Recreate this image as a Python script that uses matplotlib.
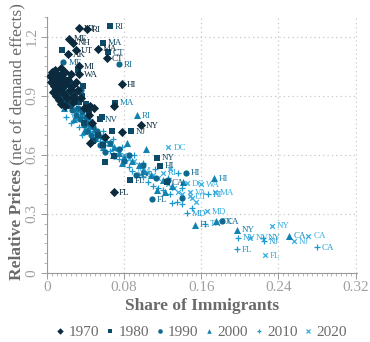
import matplotlib
matplotlib.use("Agg")
import matplotlib.pyplot as plt
from matplotlib.lines import Line2D
from matplotlib.ticker import MultipleLocator

plt.rcParams['font.family'] = ['Liberation Serif', 'DejaVu Serif']

# ---------------- data ----------------
years = ['1970', '1980', '1990', '2000', '2010', '2020']
colors = ['#0b2a3d', '#0c4a68', '#0e6890', '#1482b0', '#1b9ad2', '#35b0e2']
markers = ['D', 's', 'o', '^', '+', 'x']

x1970 = [0.003, 0.004, 0.005, 0.006, 0.007, 0.008, 0.009, 0.010, 0.011, 0.012, 0.013, 0.014,
         0.015, 0.016, 0.017, 0.018, 0.019, 0.020, 0.021, 0.022, 0.024, 0.025, 0.026, 0.028,
         0.030, 0.006, 0.009, 0.012, 0.015, 0.027, 0.032, 0.035, 0.038, 0.041, 0.044, 0.047,
         0.049, 0.045, 0.060, 0.069, 0.008, 0.019, 0.025, 0.028, 0.045,
         0.033, 0.041, 0.023, 0.027, 0.030, 0.022, 0.053, 0.062, 0.033, 0.033, 0.078, 0.097,
         0.078, 0.069]
y1970 = [1.00, 0.97, 1.02, 0.99, 0.95, 1.03, 0.98, 1.01, 0.96, 0.93, 1.00, 0.97,
         1.04, 0.94, 0.99, 0.91, 1.02, 0.96, 0.89, 0.98, 0.93, 1.01, 0.95, 0.90,
         0.97, 0.92, 0.90, 0.88, 0.86, 0.87, 0.93, 0.89, 0.84, 0.84, 0.80, 0.76,
         0.84, 0.66, 0.69, 0.85, 0.92, 0.85, 0.93, 0.885, 0.85,
         1.245, 1.24, 1.19, 1.17, 1.13, 1.11, 1.14, 1.09, 1.05, 1.01, 0.96, 0.75,
         0.715, 0.41]
lab1970 = [''] * 45 + ['VT', 'RI', 'ME', 'NH', 'UT', 'AK', 'MA', 'CT', 'MI', 'WA', 'HI', 'NY',
                       '', 'FL']

x1980 = [0.005, 0.007, 0.009, 0.011, 0.013, 0.015, 0.017, 0.019, 0.021, 0.023, 0.025, 0.027,
         0.029, 0.031, 0.033, 0.008, 0.012, 0.016, 0.020, 0.024, 0.036, 0.040, 0.044, 0.038,
         0.048, 0.053, 0.057, 0.067, 0.058, 0.060, 0.070, 0.021, 0.037, 0.032, 0.071,
         0.065, 0.058, 0.063, 0.016, 0.055, 0.087, 0.114, 0.117, 0.124, 0.086]
y1980 = [1.00, 0.97, 1.02, 0.95, 0.99, 0.93, 1.01, 0.96, 0.91, 0.98, 0.94, 0.89,
         0.96, 0.92, 0.87, 0.93, 0.90, 0.88, 0.86, 0.85, 0.90, 0.86, 0.82, 0.76,
         0.67, 0.70, 0.79, 0.72, 0.65, 0.565, 0.595, 0.86, 0.95, 1.03, 0.865,
         1.255, 1.17, 1.12, 1.13, 0.78, 0.72, 0.585, 0.545, 0.46, 0.47]
lab1980 = [''] * 35 + ['RI', 'MA', 'CT', '', 'NV', 'NJ', 'NY', 'HI', 'CA', 'FL']

x1990 = [0.008, 0.010, 0.012, 0.014, 0.016, 0.018, 0.020, 0.022, 0.024, 0.026, 0.028, 0.030,
         0.032, 0.034, 0.036, 0.038, 0.040, 0.042, 0.044, 0.046, 0.048, 0.050, 0.052, 0.055,
         0.058, 0.060, 0.065, 0.070, 0.075, 0.080, 0.085, 0.015, 0.025, 0.035, 0.113, 0.140,
         0.100, 0.125,
         0.017, 0.075, 0.092, 0.109, 0.144, 0.181]
y1990 = [0.97, 0.94, 0.99, 0.91, 0.95, 0.88, 0.92, 0.86, 0.90, 0.83, 0.87, 0.80,
         0.84, 0.78, 0.82, 0.75, 0.79, 0.72, 0.76, 0.70, 0.74, 0.68, 0.72, 0.65,
         0.69, 0.615, 0.66, 0.595, 0.63, 0.57, 0.60, 0.99, 0.96, 0.93, 0.48, 0.38,
         0.55, 0.47,
         1.07, 1.06, 0.50, 0.375, 0.51, 0.265]
lab1990 = [''] * 38 + ['ME', 'RI', 'DC', 'FL', 'HI', 'CA']

x2000 = [0.015, 0.020, 0.025, 0.030, 0.035, 0.040, 0.045, 0.050, 0.055, 0.060, 0.065, 0.070,
         0.075, 0.080, 0.083, 0.088, 0.095, 0.100, 0.103, 0.108, 0.114, 0.120, 0.122, 0.130,
         0.141, 0.028, 0.038, 0.048, 0.058, 0.068, 0.078, 0.010, 0.018,
         0.093, 0.070, 0.173, 0.251, 0.197, 0.153, 0.175]
y2000 = [0.93, 0.89, 0.86, 0.84, 0.80, 0.78, 0.75, 0.73, 0.70, 0.68, 0.66, 0.64,
         0.61, 0.59, 0.66, 0.57, 0.55, 0.52, 0.63, 0.50, 0.42, 0.47, 0.41, 0.44,
         0.46, 0.78, 0.72, 0.68, 0.64, 0.60, 0.56, 0.96, 0.84,
         0.80, 0.865, 0.48, 0.19, 0.22, 0.245, 0.265]
lab2000 = [''] * 33 + ['RI', 'MA', 'HI', 'CA', 'NY', 'FL', 'TX']

x2010 = [0.033, 0.036, 0.025, 0.040, 0.045, 0.050, 0.055, 0.060, 0.065, 0.070, 0.075, 0.080,
         0.085, 0.095, 0.100, 0.105, 0.110, 0.115, 0.120, 0.128, 0.135, 0.140, 0.150, 0.030,
         0.045, 0.058, 0.068, 0.078, 0.090, 0.100, 0.112, 0.125, 0.140, 0.136, 0.130,
         0.020, 0.088, 0.145, 0.167, 0.164, 0.198, 0.225, 0.224, 0.197, 0.280]
y2010 = [0.74, 0.70, 0.76, 0.76, 0.72, 0.70, 0.67, 0.65, 0.62, 0.60, 0.58, 0.56,
         0.54, 0.50, 0.49, 0.46, 0.44, 0.43, 0.42, 0.40, 0.36, 0.35, 0.33, 0.82,
         0.78, 0.72, 0.68, 0.64, 0.60, 0.56, 0.53, 0.48, 0.43, 0.51, 0.355,
         0.79, 0.52, 0.305, 0.40, 0.25, 0.18, 0.16, 0.18, 0.12, 0.13]
lab2010 = [''] * 35 + ['WV', 'NM', 'MD', 'HI', 'TX', 'NV', 'NJ', 'NY', 'FL', 'CA']

x2020 = [0.030, 0.040, 0.050, 0.060, 0.065, 0.070, 0.075, 0.080, 0.085, 0.090, 0.095, 0.100,
         0.105, 0.110, 0.115, 0.125, 0.128, 0.132, 0.136, 0.140, 0.150, 0.155,
         0.126, 0.120, 0.145, 0.160, 0.148, 0.174, 0.166, 0.148, 0.233, 0.271, 0.256, 0.226,
         0.211]
y2020 = [0.78, 0.74, 0.71, 0.68, 0.66, 0.63, 0.62, 0.60, 0.58, 0.57, 0.55, 0.53,
         0.51, 0.50, 0.48, 0.45, 0.53, 0.43, 0.41, 0.40, 0.38, 0.36,
         0.64, 0.51, 0.455, 0.45, 0.41, 0.41, 0.315, 0.39, 0.24, 0.19, 0.16, 0.09,
         0.18]
lab2020 = [''] * 22 + ['DC', 'RI', 'DC', 'WA', 'VA', 'MA', 'MD', 'UT', 'NY', 'CA', 'NJ', 'FL',
                       'NV']

xs = [x1970, x1980, x1990, x2000, x2010, x2020]
ys = [y1970, y1980, y1990, y2000, y2010, y2020]
labs = [lab1970, lab1980, lab1990, lab2000, lab2010, lab2020]

# ---------------- figure ----------------
W, H = 370, 342
fig = plt.figure(figsize=(W / 100, H / 100), dpi=100)
ax = fig.add_axes([47 / W, 1 - 273 / H, 310 / W, 256 / H])

sizes = {'D': 22, 's': 20, 'o': 20, '^': 26, '+': 16, 'x': 11}
for i in reversed(range(6)):
    m = markers[i]
    lw = 0.9 if m in '+x' else 0
    ax.scatter(xs[i], ys[i], marker=m, s=sizes[m], color=colors[i], linewidths=lw,
               zorder=3 + (6 - i))
    for xv, yv, lb in zip(xs[i], ys[i], labs[i]):
        if lb:
            ax.annotate(lb, (xv, yv), xytext=(3.5, -0.5), textcoords='offset points',
                        fontsize=6.5, color=colors[i], va='center', ha='left',
                        zorder=3 + (6 - i))

ax.set_xlim(0, 0.3215)
ax.set_ylim(0, 1.30)
ax.xaxis.set_minor_locator(MultipleLocator(0.005))
ax.yaxis.set_minor_locator(MultipleLocator(0.05))
ax.set_xticks([0, 0.08, 0.16, 0.24, 0.32])
ax.set_xticklabels(['0', '0.08', '0.16', '0.24', '0.32'])
ax.set_yticks([0, 0.3, 0.6, 0.9, 1.2])
ax.set_yticklabels(['0', '0.3', '0.6', '0.9', '1.2'], rotation=90, va='center')

spine_c = '#9a9a9a'
for s in ['top', 'right']:
    ax.spines[s].set_visible(False)
for s in ['left', 'bottom']:
    ax.spines[s].set_color(spine_c)
    ax.spines[s].set_linewidth(0.8)
ax.tick_params(which='major', length=4, width=0.7, color=spine_c, labelcolor='#a0a0a0',
               labelsize=11, pad=2)
ax.tick_params(which='minor', length=2, width=0.5, color=spine_c)
ax.grid(True, which='major', linestyle=(0, (1, 2.5)), color='#c8c8c8', linewidth=0.9)
ax.set_axisbelow(True)

ax.set_xlabel('Share of Immigrants', fontsize=12.5, fontweight='bold', color='#6a6a6a',
              labelpad=3)

# y label: bold part + normal part
fig.canvas.draw()
r = fig.canvas.get_renderer()
xc = 17 / W
t1 = fig.text(xc, 0, 'Relative Prices', rotation=90, fontsize=12.5, fontweight='bold',
              color='#6a6a6a', ha='center', va='bottom')
t2 = fig.text(xc, 0, '\u00a0(net of demand effects)', rotation=90, fontsize=12.5,
              color='#6a6a6a', ha='center', va='bottom')
h1 = t1.get_window_extent(r).height
h2 = t2.get_window_extent(r).height
yc = H - 142
start = yc - (h1 + h2) / 2
t1.set_y(start / H)
t2.set_y((start + h1) / H)

handles = [Line2D([], [], marker=markers[i], color=colors[i], linestyle='none',
                  markersize=3.3 if markers[i] not in '+x' else 3.5,
                  markeredgewidth=0.9 if markers[i] in '+x' else 0)
           for i in range(6)]
fig.legend(handles, years, loc='center', bbox_to_anchor=(202 / W, 1 - 332 / H), ncol=6,
           frameon=False, fontsize=11, labelcolor='#6a6a6a', handlelength=0.5,
           handletextpad=0.3, columnspacing=0.45, borderpad=0)

fig.savefig('out.png', dpi=100)
